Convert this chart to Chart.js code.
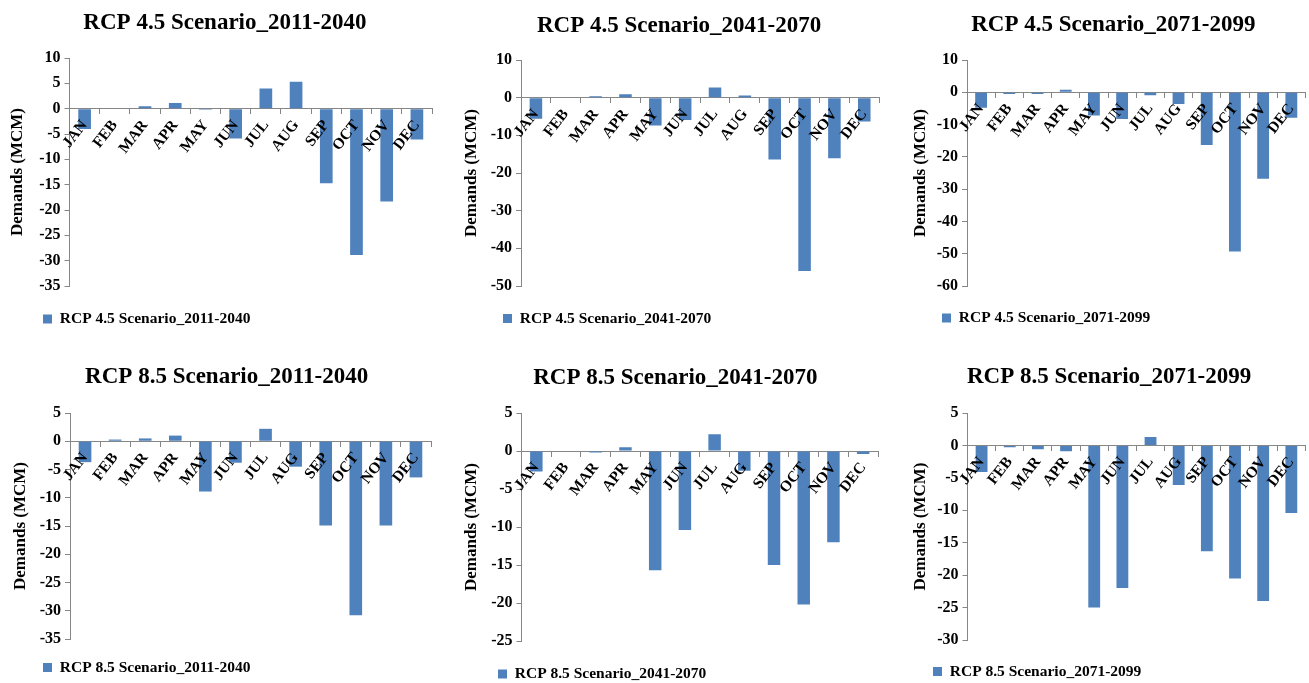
<!DOCTYPE html>
<html lang="en">
<head>
<meta charset="UTF-8">
<title>Demands (MCM) - RCP 4.5 and RCP 8.5 Scenarios</title>
<script src="https://cdn.jsdelivr.net/npm/chart.js"></script>
<style>
  html, body { margin: 0; padding: 0; background: #ffffff; overflow: hidden; }
  #wrap { position: relative; width: 1309px; height: 683px; }
  #wrap canvas { position: absolute; }
</style>
</head>
<body>
<div id="wrap">
  <canvas id="c1"></canvas>
  <canvas id="c2"></canvas>
  <canvas id="c3"></canvas>
  <canvas id="c4"></canvas>
  <canvas id="c5"></canvas>
  <canvas id="c6"></canvas>
</div>
<script>
// data (MCM)
const months = ['JAN', 'FEB', 'MAR', 'APR', 'MAY', 'JUN', 'JUL', 'AUG', 'SEP', 'OCT', 'NOV', 'DEC'];

const rcp45_2011_2040 = [-4.0, 0, 0.5, 1.1, -0.2, -5.9, 4.0, 5.3, -14.7, -28.9, -18.3, -6.1];
const rcp45_2041_2070 = [-5.6, 0, 0.35, 0.9, -7.4, -5.9, 2.7, 0.6, -16.4, -46.0, -16.1, -6.3];
const rcp45_2071_2099 = [-4.8, -0.5, -0.5, 0.8, -7.2, -8.3, -0.9, -3.6, -16.3, -49.3, -26.8, -7.9];
const rcp85_2011_2040 = [-3.7, 0.3, 0.5, 1.0, -8.9, -3.8, 2.2, -4.5, -14.9, -30.8, -14.9, -6.4];
const rcp85_2041_2070 = [-2.7, 0, -0.2, 0.5, -15.7, -10.4, 2.2, -2.6, -15.0, -20.2, -12.0, -0.4];
const rcp85_2071_2099 = [-4.1, -0.3, -0.6, -0.9, -25.0, -22.0, 1.3, -6.1, -16.3, -20.5, -24.0, -10.4];

const titles = [
  'RCP 4.5 Scenario_2011-2040', 'RCP 4.5 Scenario_2041-2070', 'RCP 4.5 Scenario_2071-2099',
  'RCP 8.5 Scenario_2011-2040', 'RCP 8.5 Scenario_2041-2070', 'RCP 8.5 Scenario_2071-2099'
];
const series = [rcp45_2011_2040, rcp45_2041_2070, rcp45_2071_2099, rcp85_2011_2040, rcp85_2041_2070, rcp85_2071_2099];

// y axis ticks
const yMin = [-35, -50, -60, -35, -25, -30];
const yMax = [10, 10, 10, 5, 5, 5];
const yStep = [5, 10, 10, 5, 5, 5];

// page layout of each panel: canvas box, plot area, title/legend/axis-title anchors
const layout = [
  { box: [0, 0, 435, 340],     plot: [69.5, 58, 432, 286],   titleY: 23,    legendY: 319,   legendX: 43,  axisX: 18 },
  { box: [435, 0, 447, 340],   plot: [521, 60, 880, 286],    titleY: 26.5,  legendY: 318.5, legendX: 503, axisX: 472 },
  { box: [882, 0, 427, 340],   plot: [967, 60, 1309, 286],   titleY: 25.5,  legendY: 318,   legendX: 942, axisX: 921 },
  { box: [0, 335, 435, 355],   plot: [70, 413, 431, 639],    titleY: 377,   legendY: 667.5, legendX: 43,  axisX: 21 },
  { box: [435, 335, 447, 355], plot: [521.5, 413, 878, 641], titleY: 378,   legendY: 674,   legendX: 498, axisX: 472 },
  { box: [882, 335, 427, 355], plot: [967.5, 413, 1309, 640], titleY: 377.5, legendY: 671.5, legendX: 933, axisX: 921 }
];

const FONT = "'Liberation Serif', 'Times New Roman', serif";
const BAR = '#4F81BD';
const AXIS = '#868686';
const TITLE_SIZE = 23, TITLE_LH = TITLE_SIZE * 1.2;
const LEG_SIZE = 15.5;
const AX_SIZE = 17, AX_LH = AX_SIZE * 1.2;

function makeChart(i) {
  const L = layout[i];
  const [x0, y0, w, h] = L.box;
  const [l, t, r, b] = L.plot.map((v, k) => v - (k % 2 ? y0 : x0));

  const canvas = document.getElementById('c' + (i + 1));
  canvas.width = w;
  canvas.height = h;
  canvas.style.left = x0 + 'px';
  canvas.style.top = y0 + 'px';

  const titleTop = (L.titleY - y0) - TITLE_LH / 2;
  const titleBottom = t - titleTop - TITLE_LH;
  const legPad = (L.legendY - y0) - b - LEG_SIZE / 2;
  const padLeft = L.legendX - x0 - legPad;
  const padBottom = h - b - (LEG_SIZE + legPad + 10);
  const yWidth = l - padLeft;
  const axisPad = L.axisX - x0 - padLeft - AX_LH / 2;

  new Chart(canvas, {
    type: 'bar',
    data: {
      labels: months,
      datasets: [{
        label: titles[i],
        data: series[i],
        backgroundColor: BAR,
        borderWidth: 0,
        barPercentage: 1,
        categoryPercentage: 0.42
      }]
    },
    options: {
      responsive: false,
      animation: false,
      layout: { padding: { left: padLeft, right: w - r, top: 0, bottom: padBottom } },
      plugins: {
        title: {
          display: true,
          text: titles[i],
          color: '#000',
          font: { family: FONT, size: TITLE_SIZE, weight: 'bold', lineHeight: 1.2 },
          padding: { top: titleTop, bottom: titleBottom }
        },
        legend: {
          position: 'bottom',
          align: 'start',
          labels: {
            boxWidth: 9,
            boxHeight: 9,
            padding: legPad,
            color: '#000',
            font: { family: FONT, size: LEG_SIZE, weight: 'bold' }
          }
        },
        tooltip: { enabled: false }
      },
      scales: {
        x: {
          position: { y: 0 },
          offset: true,
          grid: { offset: true, drawOnChartArea: false, tickLength: 5, color: AXIS },
          border: { color: AXIS },
          ticks: {
            z: 1, // month labels sit on top of the bars
            autoSkip: false,
            minRotation: 52,
            maxRotation: 52,
            padding: 3,
            color: '#000',
            font: { family: FONT, size: 15.5, weight: 'bold' }
          }
        },
        y: {
          min: yMin[i],
          max: yMax[i],
          afterFit: (scale) => { scale.width = yWidth; },
          grid: { drawOnChartArea: false, tickLength: 5, color: AXIS },
          border: { color: AXIS },
          ticks: {
            stepSize: yStep[i],
            padding: 4,
            color: '#000',
            font: { family: FONT, size: 16, weight: 'bold' }
          },
          title: {
            display: true,
            text: 'Demands (MCM)',
            color: '#000',
            padding: { top: axisPad, bottom: 0 },
            font: { family: FONT, size: AX_SIZE, weight: 'bold', lineHeight: 1.2 }
          }
        }
      }
    }
  });
}

for (let i = 0; i < 6; i++) makeChart(i);
</script>
</body>
</html>
